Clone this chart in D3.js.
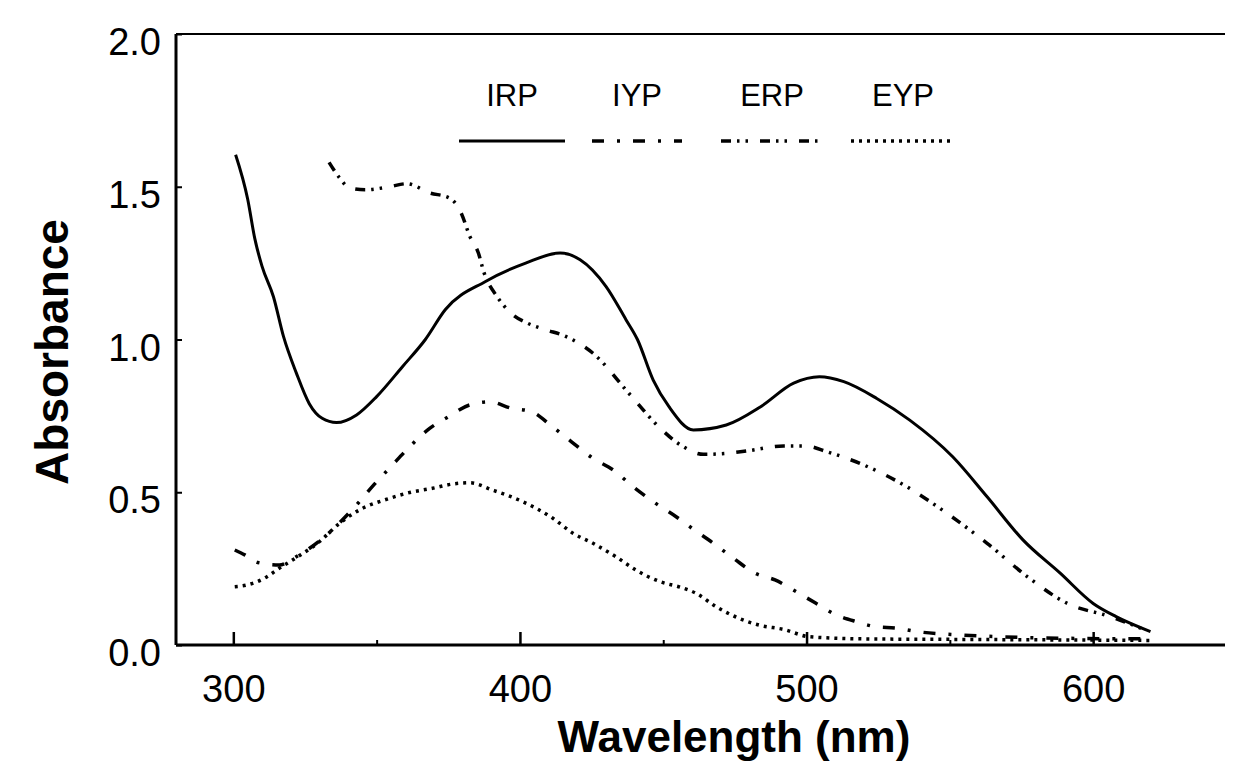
<!DOCTYPE html>
<html>
<head>
<meta charset="utf-8">
<script src="https://cdn.jsdelivr.net/npm/d3@7"></script>
<style>
  html, body { margin: 0; padding: 0; background: #ffffff; }
  svg text { font-family: "Liberation Sans", Arial, Helvetica, sans-serif; fill: #000; }
</style>
</head>
<body>
<svg id="chart" width="1233" height="766"></svg>
<script>
// wavelength (nm) / absorbance pairs
const irpWl = [300.8, 305, 307.5, 310, 314, 317.5, 322, 326.5, 331, 336, 343, 350, 359, 367, 374, 388, 402, 414, 421, 430, 437, 441, 446.5, 452, 460.5, 472, 484, 495.5, 504.5, 513, 524.5, 536, 551, 563, 575.5, 588.5, 600, 608, 620];
const irpAbs = [1.605, 1.46, 1.33, 1.24, 1.14, 1.01, 0.89, 0.79, 0.742, 0.728, 0.753, 0.813, 0.911, 1.0, 1.098, 1.19, 1.25, 1.283, 1.261, 1.174, 1.065, 1.0, 0.867, 0.78, 0.704, 0.72, 0.78, 0.857, 0.878, 0.862, 0.807, 0.736, 0.616, 0.485, 0.344, 0.235, 0.136, 0.093, 0.044];

const iypWl = [300.5, 304, 308.5, 316, 322.5, 330, 343.5, 349, 355, 361, 368.5, 375, 382.5, 389.5, 397, 404, 411, 418, 425.5, 432.5, 439.5, 446.5, 454.5, 460.5, 467.5, 474.5, 482, 489, 496.5, 503, 510.5, 517.5, 524, 531.5, 538.5, 553.5, 567.5, 590, 620];
const iypAbs = [0.311, 0.295, 0.27, 0.262, 0.292, 0.34, 0.464, 0.524, 0.584, 0.644, 0.709, 0.747, 0.786, 0.796, 0.775, 0.764, 0.717, 0.665, 0.611, 0.573, 0.518, 0.469, 0.42, 0.379, 0.333, 0.284, 0.235, 0.213, 0.174, 0.138, 0.098, 0.076, 0.06, 0.055, 0.044, 0.033, 0.027, 0.022, 0.02];

const erpWl = [333.4, 337, 340.5, 346, 354.5, 360.5, 368.5, 375.5, 379.5, 382.5, 385.5, 387.5, 392, 397.5, 402.5, 409, 416, 425.5, 438, 449, 457, 464, 472, 479, 492, 500, 507, 520, 535, 549, 563, 577, 591, 606, 618];
const erpAbs = [1.58, 1.53, 1.496, 1.49, 1.5, 1.51, 1.48, 1.463, 1.414, 1.338, 1.283, 1.218, 1.141, 1.081, 1.054, 1.032, 1.01, 0.955, 0.824, 0.709, 0.649, 0.624, 0.627, 0.635, 0.651, 0.651, 0.633, 0.589, 0.518, 0.431, 0.333, 0.224, 0.136, 0.093, 0.05];

const eypWl = [300.5, 304.5, 311.5, 316, 322.5, 330, 337, 344, 354.5, 361.5, 369.5, 376.5, 382.5, 390.5, 401, 411.5, 418.5, 425.5, 433.5, 440.5, 449, 456, 461.5, 468.5, 476.5, 483.5, 492, 501, 520, 560, 620];
const eypAbs = [0.191, 0.196, 0.222, 0.251, 0.289, 0.338, 0.398, 0.442, 0.48, 0.499, 0.513, 0.527, 0.531, 0.507, 0.469, 0.415, 0.366, 0.333, 0.289, 0.245, 0.207, 0.189, 0.169, 0.125, 0.087, 0.065, 0.051, 0.027, 0.02, 0.018, 0.015];

const seriesNames = ["IRP", "IYP", "ERP", "EYP"];
const xTicks = [300, 400, 500, 600];
const xMinorTicks = [350, 450, 550];
const yTicks = [0, 0.5, 1.0, 1.5, 2.0];

const svg = d3.select("#chart");
const plotLeft = 176, plotRight = 1225, plotTop = 34, plotBottom = 645;

const x = d3.scaleLinear().domain([280, 646]).range([plotLeft, plotRight]);
const y = d3.scaleLinear().domain([0, 2]).range([plotBottom, plotTop]);

const styles = {
  IRP: { dash: null, width: 3 },
  IYP: { dash: "12,13,3,13", width: 3.5 },
  ERP: { dash: "10,6,2.5,6,2.5,12", width: 3.5 },
  EYP: { dash: "3,5", width: 3.5 }
};

const series = [
  { name: "IRP", wl: irpWl, abs: irpAbs },
  { name: "IYP", wl: iypWl, abs: iypAbs },
  { name: "ERP", wl: erpWl, abs: erpAbs },
  { name: "EYP", wl: eypWl, abs: eypAbs }
];

// frame
svg.append("line").attr("x1", plotLeft).attr("x2", plotRight).attr("y1", plotTop).attr("y2", plotTop)
  .attr("stroke", "#000").attr("stroke-width", 2);
svg.append("line").attr("x1", plotLeft).attr("x2", plotLeft).attr("y1", plotTop).attr("y2", plotBottom)
  .attr("stroke", "#000").attr("stroke-width", 3);
svg.append("line").attr("x1", plotLeft).attr("x2", plotRight).attr("y1", plotBottom).attr("y2", plotBottom)
  .attr("stroke", "#000").attr("stroke-width", 3);

// x axis ticks (inward) and labels
const xAxis = svg.append("g").attr("transform", "translate(0," + plotBottom + ")")
  .call(d3.axisBottom(x).tickValues(xTicks).tickSize(-13).tickFormat(d3.format("d")));
xAxis.select(".domain").remove();
xAxis.selectAll(".tick line").attr("stroke", "#000").attr("stroke-width", 2.5);
xAxis.selectAll(".tick text").attr("font-size", 38).attr("dy", 0).attr("y", 57);

const xMinor = svg.append("g").attr("transform", "translate(0," + plotBottom + ")")
  .call(d3.axisBottom(x).tickValues(xMinorTicks).tickSize(-5).tickFormat(""));
xMinor.select(".domain").remove();
xMinor.selectAll(".tick line").attr("stroke", "#000").attr("stroke-width", 2);

// y axis
const yAxis = svg.append("g").attr("transform", "translate(" + plotLeft + ",0)")
  .call(d3.axisLeft(y).tickValues(yTicks).tickSize(-6).tickFormat(d3.format(".1f")));
yAxis.select(".domain").remove();
yAxis.selectAll(".tick line").attr("stroke", "#000").attr("stroke-width", 2);
yAxis.selectAll(".tick text").attr("font-size", 38).attr("x", -15).attr("y", 7).attr("dy", "0.36em");

// curves
const line = d3.line()
  .x(d => x(d[0]))
  .y(d => y(d[1]))
  .curve(d3.curveMonotoneX);

series.forEach(s => {
  const pts = s.wl.map((w, i) => [w, s.abs[i]]);
  svg.append("path")
    .datum(pts)
    .attr("d", line)
    .attr("fill", "none")
    .attr("stroke", "#000")
    .attr("stroke-width", styles[s.name].width)
    .attr("stroke-dasharray", styles[s.name].dash);
});

// legend
const legendX = [512, 637, 772, 903];
const legendHalf = [53, 45, 51, 52];
seriesNames.forEach((name, i) => {
  svg.append("text")
    .attr("x", legendX[i]).attr("y", 106)
    .attr("text-anchor", "middle")
    .attr("font-size", 31)
    .text(name);
  svg.append("line")
    .attr("x1", legendX[i] - legendHalf[i]).attr("x2", legendX[i] + legendHalf[i])
    .attr("y1", 141).attr("y2", 141)
    .attr("stroke", "#000")
    .attr("stroke-width", styles[name].width)
    .attr("stroke-dasharray", styles[name].dash);
});

// axis titles
svg.append("text")
  .attr("x", 734).attr("y", 752)
  .attr("text-anchor", "middle")
  .attr("font-size", 44).attr("font-weight", "bold")
  .text("Wavelength (nm)");

svg.append("text")
  .attr("transform", "translate(68,352) rotate(-90)")
  .attr("text-anchor", "middle")
  .attr("font-size", 46).attr("font-weight", "bold")
  .text("Absorbance");
</script>
</body>
</html>
